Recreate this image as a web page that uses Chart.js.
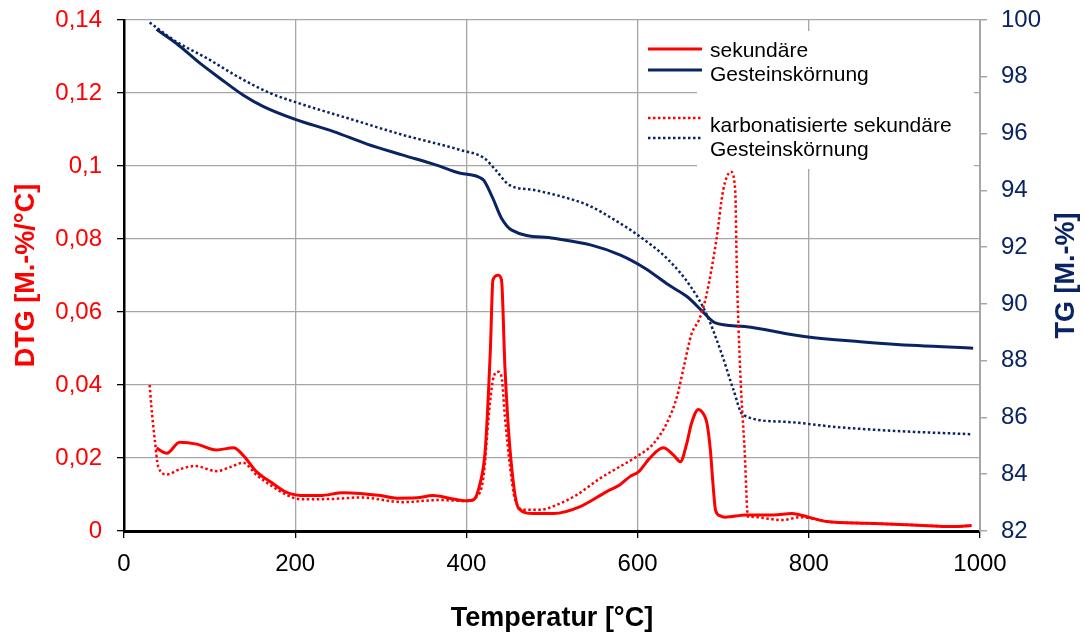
<!DOCTYPE html>
<html>
<head>
<meta charset="utf-8">
<script src="https://cdn.jsdelivr.net/npm/chart.js@4"></script>
<style>
  html, body { margin: 0; padding: 0; background: #fff; }
  #chart { display: block; }
</style>
</head>
<body>
<canvas id="chart" width="1085" height="635"></canvas>
<script>
// DTG, sekundäre Gesteinskörnung
const tempDtgSek = [38, 50, 65, 85, 108, 128, 139, 155, 171, 190, 213, 229, 256, 276, 300, 319, 342, 361, 380, 400, 408, 416, 422, 428, 431, 437, 441, 445, 451, 461, 478, 502, 533, 564, 579, 591, 601, 614, 630, 642, 650, 657, 663, 671, 675, 681, 685, 688, 691, 696, 702, 727, 759, 780, 790, 821, 868, 907, 945, 969, 990];
const dtgSek = [0.0227, 0.0213, 0.0243, 0.0238, 0.0222, 0.0228, 0.0208, 0.0162, 0.0135, 0.0106, 0.0097, 0.0097, 0.0105, 0.0103, 0.0097, 0.0090, 0.0091, 0.0097, 0.0090, 0.0083, 0.0085, 0.0131, 0.0222, 0.0496, 0.0688, 0.0701, 0.0688, 0.0450, 0.0222, 0.0062, 0.0048, 0.0048, 0.0067, 0.0108, 0.0126, 0.0149, 0.0162, 0.0199, 0.0228, 0.0208, 0.0190, 0.0236, 0.0295, 0.0333, 0.0327, 0.0295, 0.0222, 0.0131, 0.0058, 0.0042, 0.0038, 0.0044, 0.0044, 0.0048, 0.0044, 0.0026, 0.0021, 0.0018, 0.0014, 0.0012, 0.0015];

// DTG, karbonatisierte sekundäre Gesteinskörnung
const tempDtgKarb = [30, 32, 36, 40, 50, 65, 83, 108, 124, 139, 155, 171, 190, 206, 245, 276, 326, 369, 400, 410, 420, 426, 431, 437, 441, 445, 451, 457, 468, 486, 505, 529, 556, 579, 599, 618, 634, 646, 654, 663, 672, 680, 692, 700, 709, 714, 716, 720, 725, 729, 731, 770, 790, 813, 821, 868, 907, 945, 969, 990];
const dtgKarb = [0.040, 0.034, 0.0249, 0.0176, 0.0155, 0.0169, 0.0178, 0.0164, 0.0175, 0.0187, 0.0153, 0.0126, 0.0099, 0.0087, 0.0088, 0.0092, 0.0079, 0.0085, 0.0082, 0.0090, 0.0149, 0.0313, 0.0414, 0.0436, 0.0423, 0.0313, 0.0176, 0.0085, 0.0058, 0.0058, 0.0071, 0.0099, 0.0144, 0.0176, 0.0204, 0.0238, 0.0295, 0.0368, 0.0450, 0.0540, 0.0580, 0.0642, 0.0797, 0.0934, 0.0984, 0.0934, 0.0706, 0.0432, 0.0222, 0.0039, 0.0039, 0.0030, 0.0038, 0.0030, 0.0026, 0.0021, 0.0018, 0.0014, 0.0012, 0.0015];

// TG, sekundäre Gesteinskörnung
const tempTgSek = [38, 61, 89, 112, 139, 163, 200, 245, 284, 326, 365, 393, 419, 430, 441, 453, 502, 546, 580, 609, 636, 658, 676, 690, 725, 797, 860, 927, 992];
const tgSek = [99.67, 99.18, 98.47, 97.95, 97.36, 96.95, 96.50, 96.07, 95.63, 95.24, 94.89, 94.60, 94.39, 93.78, 93.02, 92.60, 92.31, 92.07, 91.72, 91.25, 90.67, 90.25, 89.73, 89.34, 89.20, 88.84, 88.67, 88.53, 88.44];

// TG, karbonatisierte sekundäre Gesteinskörnung
const tempTgKarb = [30, 61, 97, 136, 171, 202, 268, 326, 393, 421, 434, 450, 479, 515, 542, 573, 600, 636, 662, 680, 698, 712, 723, 770, 837, 904, 989];
const tgKarb = [99.91, 99.24, 98.65, 97.95, 97.42, 97.09, 96.48, 95.95, 95.42, 95.13, 94.72, 94.19, 94.01, 93.75, 93.48, 92.96, 92.43, 91.55, 90.61, 89.67, 88.26, 86.97, 86.09, 85.85, 85.65, 85.52, 85.41];

// axis ticks
const tempTicks = [0, 200, 400, 600, 800, 1000];
const tempTickLabels = ['0', '200', '400', '600', '800', '1000'];
const dtgTicks = [0, 0.02, 0.04, 0.06, 0.08, 0.1, 0.12, 0.14];
const dtgTickLabels = ['0', '0,02', '0,04', '0,06', '0,08', '0,1', '0,12', '0,14'];
const tgTicks = [82, 84, 86, 88, 90, 92, 94, 96, 98, 100];
const tgTickLabels = ['82', '84', '86', '88', '90', '92', '94', '96', '98', '100'];

// legend text (wrapped as in the original)
const legendTexts = [['sekundäre', 'Gesteinskörnung'], ['karbonatisierte sekundäre', 'Gesteinskörnung']];
const tgTitle = 'TG [M.-%]';

const RED = '#ff0000';
const NAVY = '#0a2463';
const GRID = '#a6a6a6';
const FONT = "'Liberation Sans', Arial, sans-serif";

const toPoints = (xs, ys) => xs.map((x, i) => ({ x: x, y: ys[i] }));

const boxLegend = {
  id: 'boxLegend',
  beforeDatasetsDraw(chart) {
    const ctx = chart.ctx;
    const ds = chart.data.datasets;
    ctx.save();
    ctx.fillStyle = '#fff';
    ctx.fillRect(697, 31, 277, 138);

    const rows = [49, 70, 118, 138];
    const order = [0, 2, 1, 3];
    order.forEach((di, r) => {
      const d = ds[di];
      ctx.beginPath();
      ctx.strokeStyle = d.borderColor;
      ctx.lineWidth = d.borderWidth;
      ctx.setLineDash(d.borderDash || []);
      ctx.moveTo(648, rows[r]);
      ctx.lineTo(702, rows[r]);
      ctx.stroke();
    });
    ctx.setLineDash([]);
    ctx.fillStyle = '#000';
    ctx.font = '21px ' + FONT;
    ctx.textBaseline = 'alphabetic';
    ctx.fillText(legendTexts[0][0], 710, 57);
    ctx.fillText(legendTexts[0][1], 710, 81);
    ctx.fillText(legendTexts[1][0], 710, 132);
    ctx.fillText(legendTexts[1][1], 710, 156);

    // right axis title, reading bottom to top like the left one
    const a = chart.chartArea;
    ctx.translate(1067, (a.top + a.bottom) / 2);
    ctx.rotate(-Math.PI / 2);
    ctx.fillStyle = NAVY;
    ctx.font = 'bold 27px ' + FONT;
    ctx.textAlign = 'center';
    ctx.textBaseline = 'middle';
    ctx.fillText(tgTitle, 0, 0);
    ctx.restore();
  }
};

const noVerticalPadding = axis => {
  axis.paddingTop = 0;
  axis.paddingBottom = 0;
};

new Chart(document.getElementById('chart'), {
  type: 'line',
  data: {
    datasets: [
      {
        label: 'sekundäre Gesteinskörnung (DTG)',
        data: toPoints(tempDtgSek, dtgSek),
        yAxisID: 'yDtg',
        borderColor: RED,
        borderWidth: 3,
        pointRadius: 0,
        cubicInterpolationMode: 'monotone'
      },
      {
        label: 'karbonatisierte sekundäre Gesteinskörnung (DTG)',
        data: toPoints(tempDtgKarb, dtgKarb),
        yAxisID: 'yDtg',
        borderColor: RED,
        borderWidth: 2.5,
        borderDash: [2.5, 2.5],
        pointRadius: 0,
        cubicInterpolationMode: 'monotone'
      },
      {
        label: 'sekundäre Gesteinskörnung (TG)',
        data: toPoints(tempTgSek, tgSek),
        yAxisID: 'yTg',
        borderColor: NAVY,
        borderWidth: 3,
        pointRadius: 0,
        cubicInterpolationMode: 'monotone'
      },
      {
        label: 'karbonatisierte sekundäre Gesteinskörnung (TG)',
        data: toPoints(tempTgKarb, tgKarb),
        yAxisID: 'yTg',
        borderColor: NAVY,
        borderWidth: 2.5,
        borderDash: [2.5, 2.5],
        pointRadius: 0,
        cubicInterpolationMode: 'monotone'
      }
    ]
  },
  options: {
    responsive: false,
    animation: false,
    devicePixelRatio: 1,
    layout: { padding: { top: 20, left: 0, right: 0, bottom: 0 } },
    plugins: {
      legend: { display: false },
      tooltip: { enabled: false }
    },
    scales: {
      x: {
        type: 'linear',
        min: 0,
        max: 1000,
        afterBuildTicks: axis => { axis.ticks = tempTicks.map(v => ({ value: v })); },
        afterFit: axis => { axis.height = 104; },
        grid: { color: GRID, lineWidth: 1.3, tickLength: 7, tickColor: '#000' },
        border: { color: '#000', width: 3 },
        ticks: { color: '#000', font: { family: FONT, size: 24 }, padding: 12, maxRotation: 0, autoSkip: false, callback: (v, i) => tempTickLabels[i] },
        title: {
          display: true,
          text: 'Temperatur [°C]',
          color: '#000',
          font: { family: FONT, size: 27, weight: 'bold' },
          padding: { top: 0, bottom: 0 }
        }
      },
      yDtg: {
        type: 'linear',
        position: 'left',
        min: 0,
        max: 0.14,
        afterBuildTicks: axis => { axis.ticks = dtgTicks.map(v => ({ value: v })); },
        afterFit: axis => { axis.width = 124; noVerticalPadding(axis); },
        grid: { color: GRID, lineWidth: 1.3, tickLength: 7, tickColor: '#000' },
        border: { color: '#000', width: 2.5 },
        ticks: { color: RED, font: { family: FONT, size: 24 }, padding: 15, callback: (v, i) => dtgTickLabels[i] },
        title: {
          display: true,
          text: 'DTG [M.-%/°C]',
          color: RED,
          font: { family: FONT, size: 27, weight: 'bold' },
          padding: { top: 10, bottom: 0 }
        }
      },
      yTg: {
        type: 'linear',
        position: 'right',
        min: 82,
        max: 100,
        afterBuildTicks: axis => { axis.ticks = tgTicks.map(v => ({ value: v })); },
        afterFit: axis => { axis.width = 105; noVerticalPadding(axis); },
        grid: { drawOnChartArea: false, color: GRID, lineWidth: 1.5, tickLength: 7 },
        border: { color: GRID, width: 2 },
        ticks: { color: NAVY, font: { family: FONT, size: 24 }, padding: 14, callback: (v, i) => tgTickLabels[i] }
      }
    }
  },
  plugins: [boxLegend]
});
</script>
</body>
</html>
